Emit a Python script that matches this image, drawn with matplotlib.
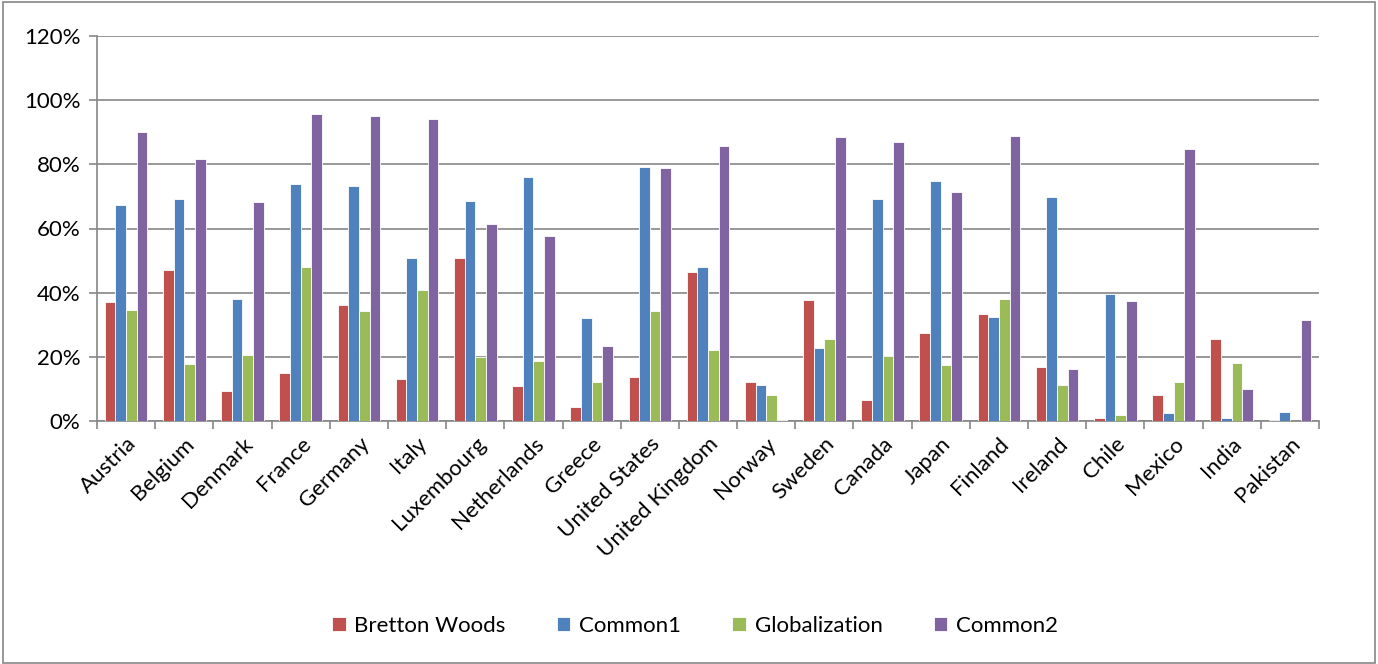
import matplotlib.pyplot as plt
import numpy as np
from matplotlib.ticker import PercentFormatter

plt.rcParams['font.family'] = ['Lato', 'DejaVu Sans']

countries = ['Austria', 'Belgium', 'Denmark', 'France', 'Germany', 'Italy',
             'Luxembourg', 'Netherlands', 'Greece', 'United States',
             'United Kingdom', 'Norway', 'Sweden', 'Canada', 'Japan',
             'Finland', 'Ireland', 'Chile', 'Mexico', 'India', 'Pakistan']

bretton_woods = [37.2, 47.2, 9.4, 15.1, 36.1, 13.0, 50.9, 11.0, 4.4, 13.7,
                 46.3, 12.3, 37.8, 6.7, 27.3, 33.2, 16.9, 0.8, 8.2, 25.7, 0.3]
common1 = [67.3, 69.3, 38.0, 73.9, 73.2, 50.7, 68.7, 76.0, 32.2, 79.1,
           48.1, 11.3, 22.6, 69.3, 74.7, 32.4, 69.9, 39.6, 2.5, 1.0, 2.9]
globalization = [34.5, 17.9, 20.5, 47.9, 34.4, 40.7, 20.0, 18.7, 12.3, 34.2,
                 22.1, 8.0, 25.7, 20.4, 17.6, 37.9, 11.1, 1.8, 12.3, 18.1, 0.1]
common2 = [90.2, 81.8, 68.4, 95.8, 95.0, 94.0, 61.3, 57.6, 23.3, 79.0,
           85.6, 0.2, 88.4, 86.9, 71.3, 88.8, 16.3, 37.3, 84.9, 10.0, 31.5]

series = [('Bretton Woods', bretton_woods, '#C0504D'),
          ('Common1', common1, '#4F81BD'),
          ('Globalization', globalization, '#9BBB59'),
          ('Common2', common2, '#8064A2')]

fig = plt.figure(figsize=(13.78, 6.64), dpi=100)
ax = fig.add_axes([97 / 1378, 1 - 421 / 664, (1319 - 97) / 1378, (421 - 36) / 664])

x = np.arange(len(countries))
w = 0.183
for i, (name, vals, col) in enumerate(series):
    ax.bar(x + (i - 1.5) * w, vals, w, color=col, edgecolor='white',
           linewidth=0.6, label=name, zorder=3)

ax.set_xlim(-0.5, len(countries) - 0.5)
ax.set_ylim(0, 120)
ax.set_yticks(range(0, 121, 20))
ax.yaxis.set_major_formatter(PercentFormatter(decimals=0))
ax.grid(axis='y', color='#868686', linewidth=1.2, zorder=0)

# ticks between the groups, labels under each group
ax.set_xticks(np.arange(-0.5, len(countries), 1.0))
ax.set_xticklabels([])
ax.set_xticks(x, minor=True)
ax.set_xticklabels(countries, minor=True, rotation=45, ha='right',
                   rotation_mode='anchor', fontsize=16)
ax.tick_params(axis='x', which='minor', length=0, pad=9)
ax.tick_params(axis='x', which='major', length=6, color='#868686', width=1.2)
ax.tick_params(axis='y', length=6, color='#868686', width=1.2, labelsize=16, pad=6)

for s in ['top', 'right']:
    ax.spines[s].set_visible(False)
for s in ['left', 'bottom']:
    ax.spines[s].set_color('#868686')
    ax.spines[s].set_linewidth(1.2)

fig.legend(loc='center', bbox_to_anchor=(695 / 1378, 1 - 626 / 664), ncol=4,
           frameon=False, fontsize=16, handlelength=0.6, handleheight=0.6,
           columnspacing=2.3, handletextpad=0.4)

# outer border of the chart
fig.patches.append(plt.Rectangle((0.002, 0.002), 0.996, 0.995, transform=fig.transFigure,
                                 fill=False, edgecolor='#868686', linewidth=1.2))

fig.savefig('out.png', dpi=100)
